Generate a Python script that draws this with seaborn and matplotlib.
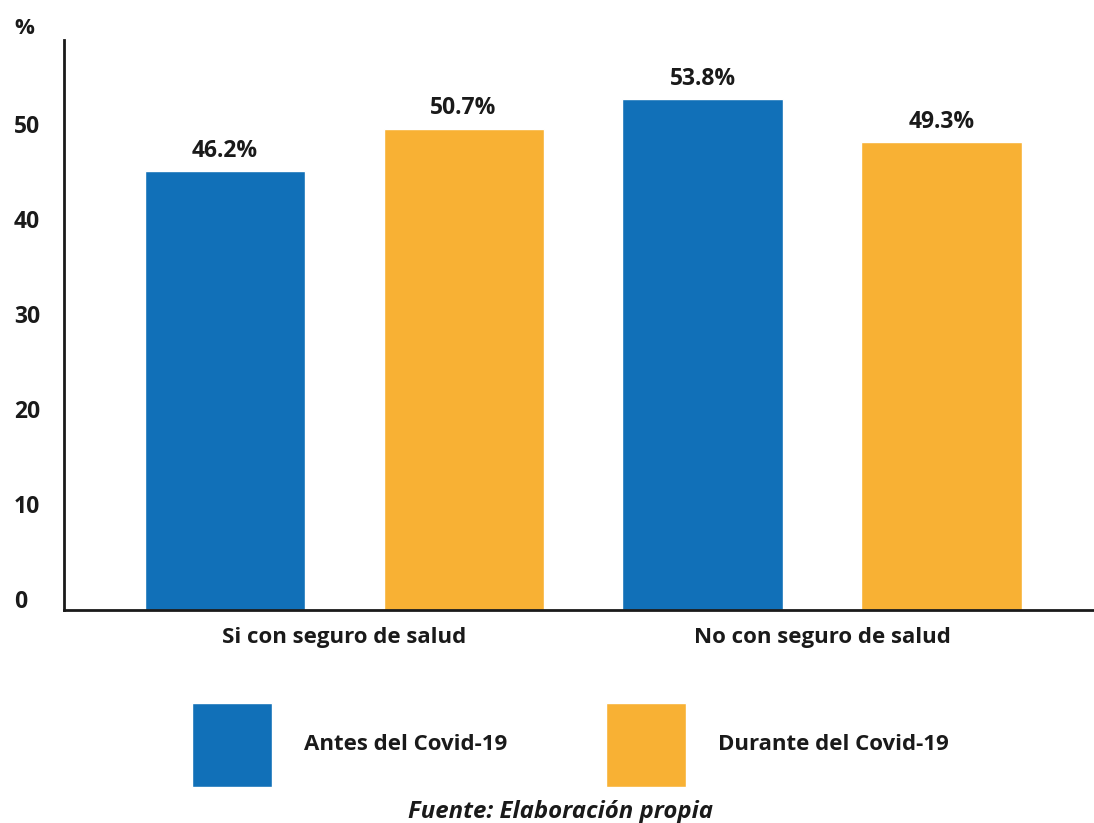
import matplotlib
matplotlib.use("Agg")
import matplotlib.pyplot as plt
import matplotlib.transforms as mtransforms
import seaborn as sns
import pandas as pd

categories = ["Si con seguro de salud", "No con seguro de salud"]
series = ["Antes del Covid-19", "Durante del Covid-19"]
antes = [46.2, 53.8]
durante = [50.7, 49.3]
yticks = [0, 10, 20, 30, 40, 50]
colors = ["#1170B8", "#F8B134"]

df = pd.DataFrame({
    "cat": categories * 2,
    "serie": [series[0]] * 2 + [series[1]] * 2,
    "val": antes + durante,
})

sns.set_theme(style="white")
plt.rcParams["font.family"] = ["Open Sans", "DejaVu Sans"]

fig = plt.figure(figsize=(10.94, 8.23), dpi=100)
ax = fig.add_axes([0.0585, 0.259, 0.9415, 0.692])

sns.barplot(data=df, x="cat", y="val", hue="serie", order=categories,
            hue_order=series, palette=colors, width=1.0, gap=0.33,
            saturation=1, ax=ax, legend=True)

for cont in ax.containers:
    ax.bar_label(cont, labels=[f"{v:.1f}%" for v in cont.datavalues],
                 padding=6, fontsize=16.5, fontweight="bold", color="#1a1a1a")

ax.set_ylim(0, 60)
ax.set_xlim(-0.586, 1.569)
ax.set_yticks(yticks)
ax.set_yticklabels([str(t) for t in yticks], fontsize=16.5, fontweight="bold",
                   color="#1a1a1a", ha="left")
ax.tick_params(axis="y", length=0, pad=36)
shift = mtransforms.ScaledTranslation(0, 11 / 100, fig.dpi_scale_trans)
for lbl in ax.get_yticklabels():
    lbl.set_transform(lbl.get_transform() + shift)
ax.tick_params(axis="x", length=0, pad=12, labelsize=16, labelcolor="#1a1a1a")
for lbl in ax.get_xticklabels():
    lbl.set_fontweight("bold")
ax.set_xlabel("")
ax.set_ylabel("")
for s in ["top", "right"]:
    ax.spines[s].set_visible(False)
for s in ["left", "bottom"]:
    ax.spines[s].set_color("#1a1a1a")
    ax.spines[s].set_linewidth(2)

handles, labels = ax.get_legend_handles_labels()
ax.get_legend().remove()
leg = fig.legend(handles, labels, loc="center", bbox_to_anchor=(0.5215, 0.0948),
                 ncol=2, frameon=False, handlelength=3.6, handleheight=5.44,
                 handletextpad=1.44, columnspacing=4.46,
                 prop={"family": "Open Sans", "weight": "bold", "size": 16})
for t in leg.get_texts():
    t.set_color("#1a1a1a")

fig.text(0.013, 1 - 28 / 823, "%", fontsize=16, fontweight="bold",
         color="#1a1a1a", ha="left", va="center")
fig.text(0.512, 1 - 812 / 823, "Fuente: Elaboración propia", fontsize=17.3,
         fontweight="bold", style="italic", color="#1a1a1a",
         ha="center", va="center")

fig.savefig("out.png", dpi=100)
